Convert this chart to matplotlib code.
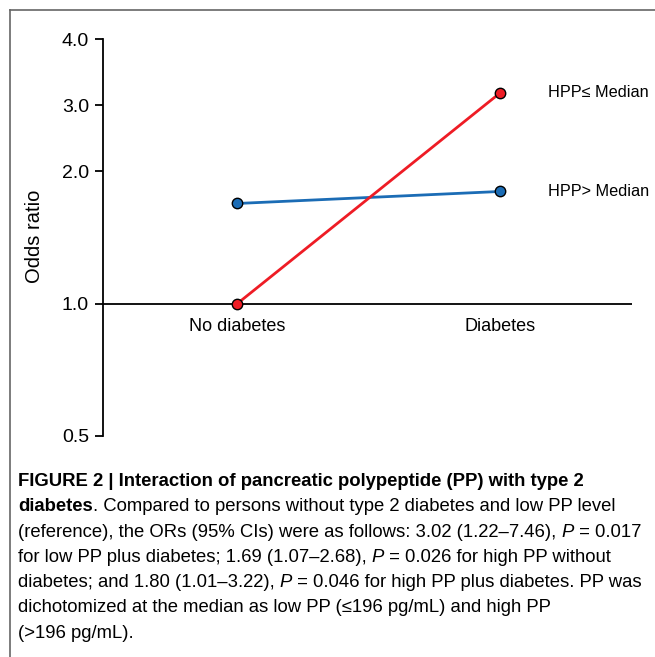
import numpy as np
import matplotlib
matplotlib.use("Agg")
from matplotlib import pyplot as plt

# data
groups = ["No diabetes", "Diabetes"]
low_pp = [1.00, 3.02]     # HPP <= median
high_pp = [1.69, 1.80]    # HPP > median
series_labels = ["HPP\u2264 Median", "HPP> Median"]
tick_vals = [0.5, 1.0, 2.0, 2 * np.sqrt(2), 4.0]
tick_text = ["0.5", "1.0", "2.0", "3.0", "4.0"]

plt.rcParams["font.family"] = ["Liberation Sans", "DejaVu Sans"]
cap_font = ["Liberation Sans", "DejaVu Sans"]

W, H = 655, 657
fig = plt.figure(figsize=(W / 100, H / 100), dpi=100)

# frame lines (top + left)
fig.add_artist(plt.Line2D([10 / W, 1], [1 - 10 / H] * 2, color="#666666", lw=1.2))
fig.add_artist(plt.Line2D([10 / W] * 2, [0, 1 - 10 / H], color="#666666", lw=1.2))

ax = fig.add_axes([103 / W, (H - 436) / H, (632 - 103) / W, (436 - 39) / H])
ax.set_yscale("log")
ax.set_ylim(0.5, 4.0)
ax.set_xlim(-0.51, 1.50)
x = np.arange(len(groups))

ax.axhline(1.0, color="black", lw=1.3, zorder=1)
ax.plot(x, high_pp, color="#1b6cb5", lw=2, marker="o", ms=7.5,
        mfc="#1b6cb5", mec="black", mew=1, zorder=3, clip_on=False)
ax.plot(x, low_pp, color="#ee1c25", lw=2, marker="o", ms=7.5,
        mfc="#ee1c25", mec="black", mew=1, zorder=4, clip_on=False)

ax.text(1.179, low_pp[1], series_labels[0], va="center", ha="left", fontsize=11.7)
ax.text(1.179, high_pp[1], series_labels[1], va="center", ha="left", fontsize=11.7)

for xi, g in zip(x, groups):
    ax.annotate(g, (xi, 1.0), xytext=(0, -16.5), textcoords="offset points",
                ha="center", va="center", fontsize=13)

for s in ["top", "right", "bottom"]:
    ax.spines[s].set_visible(False)
ax.spines["left"].set_linewidth(1.3)
ax.set_xticks([])
ax.set_yticks(tick_vals)
ax.set_yticklabels(tick_text)
ax.yaxis.set_minor_locator(matplotlib.ticker.NullLocator())
ax.tick_params(axis="y", length=6, width=1.3, labelsize=14, pad=4)
ax.set_ylabel("Odds ratio", fontsize=14.5)
ax.yaxis.set_label_coords(-0.112, 0.504)

# caption
fig.canvas.draw()
renderer = fig.canvas.get_renderer()
cap_size = 13.3
lines = [
    [("FIGURE 2 | Interaction of pancreatic polypeptide (PP) with type 2", "bold")],
    [("diabetes", "bold"), (". Compared to persons without type 2 diabetes and low PP level", "normal")],
    [("(reference), the ORs (95% CIs) were as follows: 3.02 (1.22\u20137.46), ", "normal"),
     ("P", "italic"), (" = 0.017", "normal")],
    [("for low PP plus diabetes; 1.69 (1.07\u20132.68), ", "normal"), ("P", "italic"),
     (" = 0.026 for high PP without", "normal")],
    [("diabetes; and 1.80 (1.01\u20133.22), ", "normal"), ("P", "italic"),
     (" = 0.046 for high PP plus diabetes. PP was", "normal")],
    [("dichotomized at the median as low PP (\u2264196 pg/mL) and high PP", "normal")],
    [("(>196 pg/mL).", "normal")],
]
y0 = 481
for i, parts in enumerate(lines):
    xp = 18
    yp = y0 + i * 25.3
    for txt, style in parts:
        kw = dict(fontsize=cap_size, family=cap_font, va="baseline", ha="left")
        if style == "bold":
            kw["weight"] = "bold"
        if style == "italic":
            kw["style"] = "italic"
        t = fig.text(xp / W, 1 - (yp + 5) / H, txt, **kw)
        bb = t.get_window_extent(renderer)
        xp += bb.width

fig.savefig("out.png", dpi=100)
